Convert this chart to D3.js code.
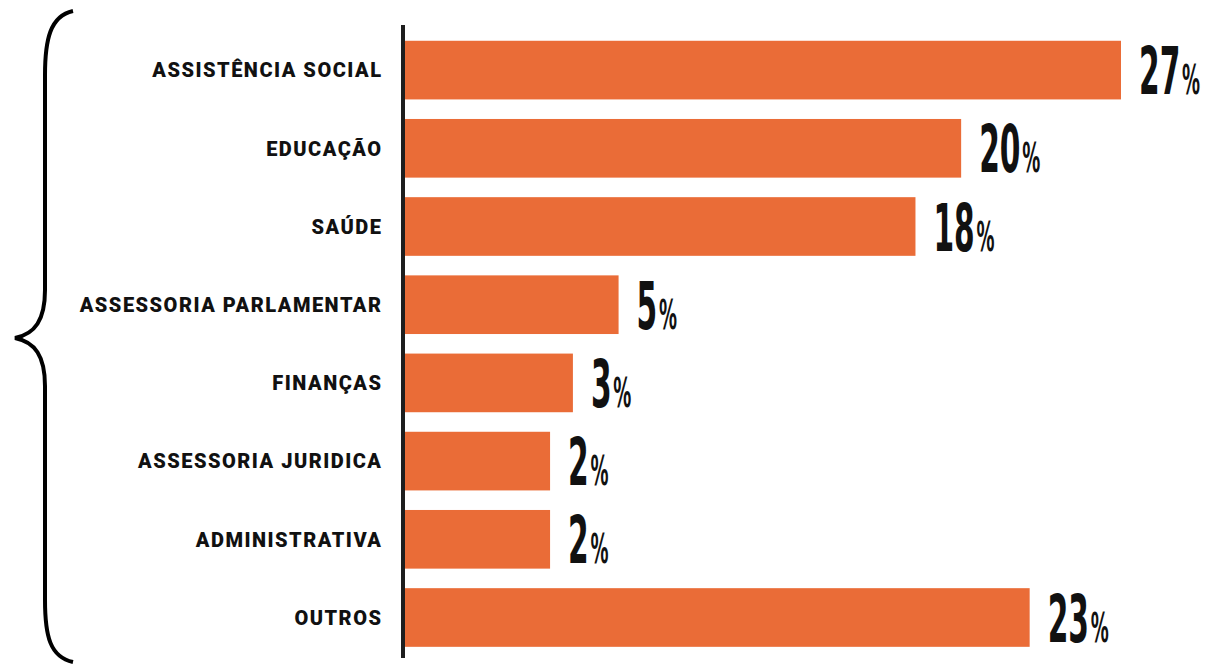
<!DOCTYPE html>
<html>
<head>
<meta charset="utf-8">
<script src="https://cdn.jsdelivr.net/npm/d3@7"></script>
<style>
  body { margin: 0; background: #fff; }
  svg { display: block; }
  .cat-label { font-family: 'Roboto', 'DejaVu Sans', sans-serif; font-weight: 900; font-size: 20px; letter-spacing: 1.5px; fill: #111; }
  .val-label { font-family: 'DejaVu Sans', sans-serif; font-weight: bold; fill: #111; }
</style>
</head>
<body>
<svg id="chart"></svg>
<script>
// data
const categories = ['ASSISTÊNCIA SOCIAL', 'EDUCAÇÃO', 'SAÚDE', 'ASSESSORIA PARLAMENTAR',
  'FINANÇAS', 'ASSESSORIA JURIDICA', 'ADMINISTRATIVA', 'OUTROS']
const values = [27, 20, 18, 5, 3, 2, 2, 23]

const width = 1206
const height = 665

const svg = d3.select('#chart')
  .attr('width', width)
  .attr('height', height)

const axisX = 403

// bars in the original don't start at zero, so the domain has an offset
const xScale = d3.scaleLinear()
  .domain([-4.44, 27])
  .range([axisX, axisX + 718])

const yScale = d3.scaleBand()
  .domain(categories)
  .range([31, 656.6])
  .paddingInner(0.25)
  .paddingOuter(0.125)

const data = categories.map((c, i) => ({cat: c, val: values[i]}))

// bars
svg.selectAll('.bar')
  .data(data)
  .enter()
  .append('rect')
  .attr('class', 'bar')
  .attr('x', xScale(-4.44))
  .attr('y', d => yScale(d.cat))
  .attr('width', d => xScale(d.val) - xScale(-4.44))
  .attr('height', yScale.bandwidth())
  .style('fill', '#EA6C37')

// vertical axis line
svg.append('line')
  .attr('x1', axisX)
  .attr('x2', axisX)
  .attr('y1', 25)
  .attr('y2', 658)
  .attr('stroke', '#1e1e1e')
  .attr('stroke-width', 4)

// category labels
svg.selectAll('.cat-label')
  .data(data)
  .enter()
  .append('text')
  .attr('class', 'cat-label')
  .attr('x', 382.5)
  .attr('y', d => yScale(d.cat) + yScale.bandwidth() / 2)
  .attr('dy', '0.36em')
  .style('text-anchor', 'end')
  .text(d => d.cat)

// value labels, squeezed horizontally to look condensed
const vals = svg.selectAll('.val-label')
  .data(data)
  .enter()
  .append('text')
  .attr('class', 'val-label')
  .attr('transform', d => `translate(${xScale(d.val) + 18},${yScale(d.cat) + yScale.bandwidth() / 2 + 24}) scale(0.45,1)`)

vals.append('tspan')
  .style('font-size', '66px')
  .text(d => d.val)

vals.append('tspan')
  .style('font-size', '40px')
  .attr('dx', 4)
  .text('%')

// curly brace on the left
const brace = d3.path()
brace.moveTo(73, 11)
brace.bezierCurveTo(50, 16, 45, 40, 45, 75)
brace.lineTo(45, 290)
brace.bezierCurveTo(45, 320, 35, 334, 15, 338)
brace.bezierCurveTo(35, 342, 45, 356, 45, 386)
brace.lineTo(45, 600)
brace.bezierCurveTo(45, 636, 50, 657, 73, 662)

svg.append('path')
  .attr('d', brace.toString())
  .attr('fill', 'none')
  .attr('stroke', '#000')
  .attr('stroke-width', 4)
</script>
</body>
</html>
